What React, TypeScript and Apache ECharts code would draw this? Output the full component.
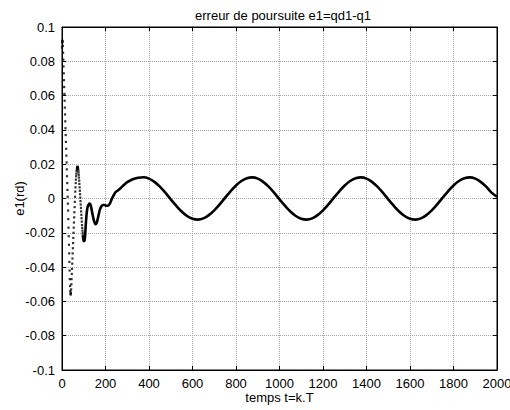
import React, { useEffect, useRef } from "react";
import * as echarts from "echarts";

// ---- data ----
const titleText = "erreur de poursuite e1=qd1-q1";
const xName = "temps t=k.T";
const yName = "e1(rd)";

// transient samples drawn as dots (k = 0, 1, 2, ...)
const dotStartK = 0;
const dotValues = [
  0.088, 0.091, 0.092, 0.0915, 0.089, 0.085, 0.081, 0.077, 0.073, 0.069,
  0.065, 0.061, 0.057, 0.053, 0.049, 0.045, 0.041, 0.037, 0.033, 0.029,
  0.025, 0.021, 0.017, 0.013, 0.009, 0.005, 0.001, -0.003, -0.007, -0.012,
  -0.017, -0.022, -0.027, -0.032, -0.037, -0.042, -0.047, -0.051, -0.054, -0.0555,
  -0.056, -0.055, -0.053, -0.05, -0.047, -0.044, -0.041, -0.038, -0.035, -0.032,
  -0.029, -0.026, -0.023, -0.02, -0.017, -0.014, -0.011, -0.008, -0.005, -0.002,
  0.001, 0.004, 0.0065, 0.009, 0.011, 0.013, 0.0145, 0.016, 0.017, 0.0178,
  0.0183, 0.0185, 0.0184, 0.018, 0.0173, 0.0164, 0.0152, 0.0138, 0.0122, 0.0104,
  0.0085, 0.0065, 0.0045, 0.0025, 0.0005, -0.0015, -0.0035, -0.0055, -0.0075, -0.0095,
  -0.0115, -0.0135, -0.0155, -0.0172, -0.0188, -0.0202, -0.0215,
];

// early solid part of the curve (k, value)
const earlyK = [
  96, 98, 100, 102, 104, 107, 110, 114, 118, 123, 128, 134, 140, 147, 154, 160,
  166, 173, 180, 188, 196, 204, 212, 220, 228, 236, 245, 255, 265, 275, 287,
];
const earlyValues = [
  -0.0215, -0.0235, -0.0248, -0.025, -0.0243, -0.02, -0.014, -0.008, -0.0048, -0.0035,
  -0.003, -0.005, -0.009, -0.013, -0.015, -0.014, -0.011, -0.007, -0.0048, -0.0038,
  -0.0038, -0.0042, -0.0042, -0.003, -0.0005, 0.0015, 0.0035, 0.0045, 0.0055, 0.0068,
  0.0082,
];

// steady oscillation, every 25 steps from k = 300
const steadyStartK = 300;
const steadyStepK = 25;
const steadyValues = [
  0.0095, 0.0112, 0.0121, 0.0124, 0.0116, 0.0097, 0.0069, 0.0034, -0.0005, -0.0042,
  -0.0076, -0.0102, -0.0118, -0.0123, -0.0116, -0.0097, -0.0069, -0.0034, 0.0005, 0.0042,
  0.0076, 0.0102, 0.0118, 0.0123, 0.0116, 0.0097, 0.0069, 0.0034, -0.0005, -0.0042,
  -0.0076, -0.0102, -0.0118, -0.0123, -0.0116, -0.0097, -0.0069, -0.0034, 0.0005, 0.0042,
  0.0076, 0.0102, 0.0118, 0.0123, 0.0116, 0.0097, 0.0069, 0.0034, -0.0005, -0.0042,
  -0.0076, -0.0102, -0.0118, -0.0123, -0.0116, -0.0097, -0.0069, -0.0034, 0.0005, 0.0042,
  0.0076, 0.0102, 0.0118, 0.0123, 0.0116, 0.0097, 0.0069, 0.0034, 0.001,
];

const xMin = 0;
const xMax = 2000;
const xStep = 200;
const yMin = -0.1;
const yMax = 0.1;
const yStep = 0.02;

const FONT = "'Liberation Sans', Arial, sans-serif";
const FS = 13;

export default function App() {
  const ref = useRef<HTMLDivElement>(null);

  useEffect(() => {
    if (!ref.current) return;
    const chart = echarts.init(ref.current, undefined, { renderer: "svg" });

    const dots = dotValues.map((v, i) => [dotStartK + i, v]);
    const line = [
      ...earlyK.map((k, i) => [k, earlyValues[i]]),
      ...steadyValues.map((v, i) => [steadyStartK + i * steadyStepK, v]),
    ];

    const fmtY = (v: number) => {
      const r = parseFloat(v.toFixed(2));
      return r === 0 ? "0" : String(r);
    };
    const fmtX = (v: number) => String(Math.round(v));

    const gridLine = { show: true, lineStyle: { color: "#a8a8a8", type: "dotted" as const, width: 1 } };
    const axisLine = { show: true, onZero: false, lineStyle: { color: "#000", width: 1 } };
    const tick = { show: true, inside: true, length: 4, lineStyle: { color: "#000" } };
    const txt = { fontFamily: FONT, fontSize: FS, color: "#000" };

    chart.setOption({
      animation: false,
      backgroundColor: "#fff",
      title: {
        text: titleText,
        left: 278,
        textAlign: "center",
        top: 4,
        textStyle: { ...txt, fontWeight: "normal" },
      },
      grid: {
        left: 62,
        right: 13,
        top: 27,
        bottom: 40,
        containLabel: false,
        outerBoundsMode: "none",
        show: true,
        borderColor: "#000",
        borderWidth: 1,
        backgroundColor: "transparent",
      },
      xAxis: [
        {
          type: "value",
          min: xMin,
          max: xMax,
          interval: xStep,
          position: "bottom",
          name: xName,
          nameLocation: "middle",
          nameGap: 21,
          nameMoveOverlap: false,
          nameTextStyle: txt,
          axisLine,
          axisTick: tick,
          axisLabel: { ...txt, margin: 7, formatter: fmtX },
          splitLine: gridLine,
        },
        {
          type: "value",
          min: xMin,
          max: xMax,
          interval: xStep,
          position: "top",
          axisLine,
          axisTick: tick,
          axisLabel: { show: false },
          splitLine: { show: false },
        },
      ],
      yAxis: [
        {
          type: "value",
          min: yMin,
          max: yMax,
          interval: yStep,
          position: "left",
          name: yName,
          nameLocation: "middle",
          nameGap: 36,
          nameMoveOverlap: false,
          nameRotate: 90,
          nameTextStyle: txt,
          axisLine,
          axisTick: tick,
          axisLabel: { ...txt, margin: 7, formatter: fmtY },
          splitLine: gridLine,
        },
        {
          type: "value",
          min: yMin,
          max: yMax,
          interval: yStep,
          position: "right",
          axisLine,
          axisTick: tick,
          axisLabel: { show: false },
          splitLine: { show: false },
        },
      ],
      series: [
        {
          type: "scatter",
          data: dots,
          symbol: "rect",
          symbolSize: 2.2,
          itemStyle: { color: "#000" },
          silent: true,
        },
        {
          type: "line",
          data: line,
          showSymbol: false,
          smooth: 0.3,
          lineStyle: { color: "#000", width: 2.6 },
          silent: true,
        },
      ],
    });

    return () => chart.dispose();
  }, []);

  return (
    <div
      ref={ref}
      style={{ position: "fixed", left: 0, top: 0, width: 510, height: 410, background: "#fff" }}
    />
  );
}
